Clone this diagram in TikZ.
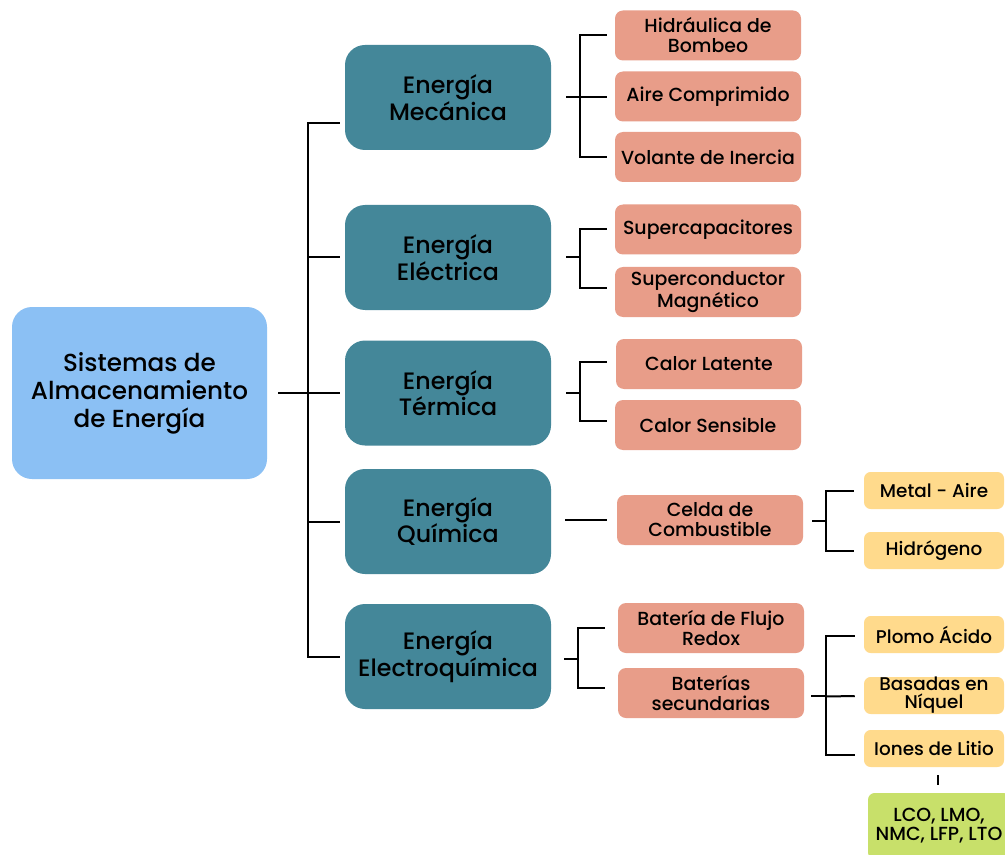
\documentclass[tikz,border=0pt]{standalone}
\usepackage{fontspec}
\setmainfont{Poppins Medium}
\usetikzlibrary{calc}
\definecolor{rootblue}{HTML}{8BC0F4}
\definecolor{tealbox}{HTML}{448799}
\definecolor{salmonbox}{HTML}{E89D89}
\definecolor{yellowbox}{HTML}{FFDA8C}
\definecolor{greenbox}{HTML}{C8E06A}
\begin{document}
\begin{tikzpicture}[x=0.75pt,y=-0.75pt,
  every node/.style={align=center, inner sep=0pt, text=black},
  rootbox/.style={fill=rootblue, rounded corners=15pt, minimum width=191.25pt, minimum height=129pt,
    font=\fontsize{18.5}{21}\selectfont},
  catbox/.style={fill=tealbox, rounded corners=15pt, minimum width=154.5pt, minimum height=78.75pt,
    font=\fontsize{17.8}{19}\selectfont},
  subbox/.style={fill=salmonbox, rounded corners=6pt, minimum width=139.5pt, minimum height=37.5pt,
    font=\fontsize{14.2}{15}\selectfont},
  leafbox/.style={fill=yellowbox, rounded corners=5pt, minimum width=105pt, minimum height=27.75pt,
    font=\fontsize{13.8}{13.5}\selectfont},
  typebox/.style={fill=greenbox, rounded corners=5pt, minimum width=106.5pt, minimum height=49.5pt,
    font=\fontsize{14.2}{14.25}\selectfont},
  conn/.style={draw=black, line width=1.5pt}]
\clip (0,0) rectangle (1005,855);
\fill[white] (0,0) rectangle (1005,855);

% root and main categories
\node[rootbox] (root) at (139.5,393) {Sistemas de\\Almacenamiento\\de Energía};
\node[catbox] (mec) at (448,97.5) {Energía\\Mecánica};
\node[catbox] (ele) at (448,257.5) {Energía\\Eléctrica};
\node[catbox] (ter) at (448,393) {Energía\\Térmica};
\node[catbox] (qui) at (448,521.5) {Energía\\Química};
\node[catbox] (elq) at (448,656.5) {Energía\\Electroquímica};

% technologies
\node[subbox] (hid) at (708,35.5) {Hidráulica de\\Bombeo};
\node[subbox] (aire) at (708,96.5) {Aire Comprimido};
\node[subbox] (vol) at (708,157) {Volante de Inercia};
\node[subbox] (scap) at (708,229.5) {Supercapacitores};
\node[subbox] (scon) at (708,292) {Superconductor\\Magnético};
\node[subbox] (clat) at (709,364) {Calor Latente};
\node[subbox] (csen) at (708,425) {Calor Sensible};
\node[subbox] (celda) at (710,520) {Celda de\\Combustible};
\node[subbox] (flujo) at (711,628) {Batería de Flujo\\Redox};
\node[subbox] (sec) at (711,693) {Baterías\\secundarias};

% sub-types
\node[leafbox] (metal) at (934,490.5) {Metal - Aire};
\node[leafbox] (hidro) at (934,550.5) {Hidrógeno};
\node[leafbox] (plomo) at (934,634.5) {Plomo Ácido};
\node[leafbox] (niq) at (934,695.5) {Basadas en\\Níquel};
\node[leafbox] (litio) at (934,748.5) {Iones de Litio};
\node[typebox] (lco) at (939,826) {LCO, LMO,\\NMC, LFP, LTO};

% trunk from the root to the categories
\draw[conn] ($(root.east)+(11,0)$) -- ($(ter.west)+(-5,0)$);
\draw[conn] ($(mec.west)+(-5,25.5)$) -| ($(elq.west)+(-37,0)$) -- ($(elq.west)+(-5,0)$);
\draw[conn] ($(ele.west)+(-37,0)$) -- ($(ele.west)+(-5,0)$);
\draw[conn] ($(qui.west)+(-37,0)$) -- ($(qui.west)+(-5,0)$);

% mechanical
\draw[conn] ($(mec.east)+(15,0)$) -- ($(mec.east -| aire.west)+(-8,0)$);
\draw[conn] ($(hid.west)+(-8,0)$) -| ($(mec.east)+(29,0)$) |- ($(vol.west)+(-8,0)$);

% electrical
\draw[conn] ($(ele.east)+(15,0)$) -- ++(14,0);
\draw[conn] ($(scap.west)+(-8,0)$) -| ($(ele.east)+(29,0)$) |- ($(scon.west)+(-8,-4)$);

% thermal
\draw[conn] ($(ter.east)+(15,0)$) -- ++(14,0);
\draw[conn] ($(clat.west)+(-9,-2)$) -| ($(ter.east)+(29,0)$) |- ($(csen.west)+(-8,-4)$);

% chemical
\draw[conn] ($(qui.east |- celda.west)+(14,0)$) -- ($(celda.west)+(-10,0)$);
\draw[conn] ($(celda.east)+(9,1)$) -- ++(14,0);
\draw[conn] ($(metal.west)+(-10,0)$) -| ($(celda.east)+(23,0)$) |- ($(hidro.west)+(-10,0)$);

% electrochemical
\draw[conn] ($(elq.east)+(13,2.5)$) -- ++(14,0);
\draw[conn] ($(flujo.west)+(-13,0)$) -| ($(elq.east)+(27,0)$) |- ($(sec.west)+(-13,-5)$);
\draw[conn] ($(sec.east)+(7,3)$) -- ++(15,0);
\draw[conn] ($(plomo.west)+(-9,1.5)$) -| ($(sec.east)+(22,0)$) |- ($(litio.west)+(-9,6.5)$);
\draw[conn] ($(niq.west)+(-9,0.5)$) -- ($(sec.east)+(22,3.5)$);
\draw[conn] ($(litio.south)+(4,8)$) -- ($(lco.north)+(-1,-8)$);
\end{tikzpicture}
\end{document}
